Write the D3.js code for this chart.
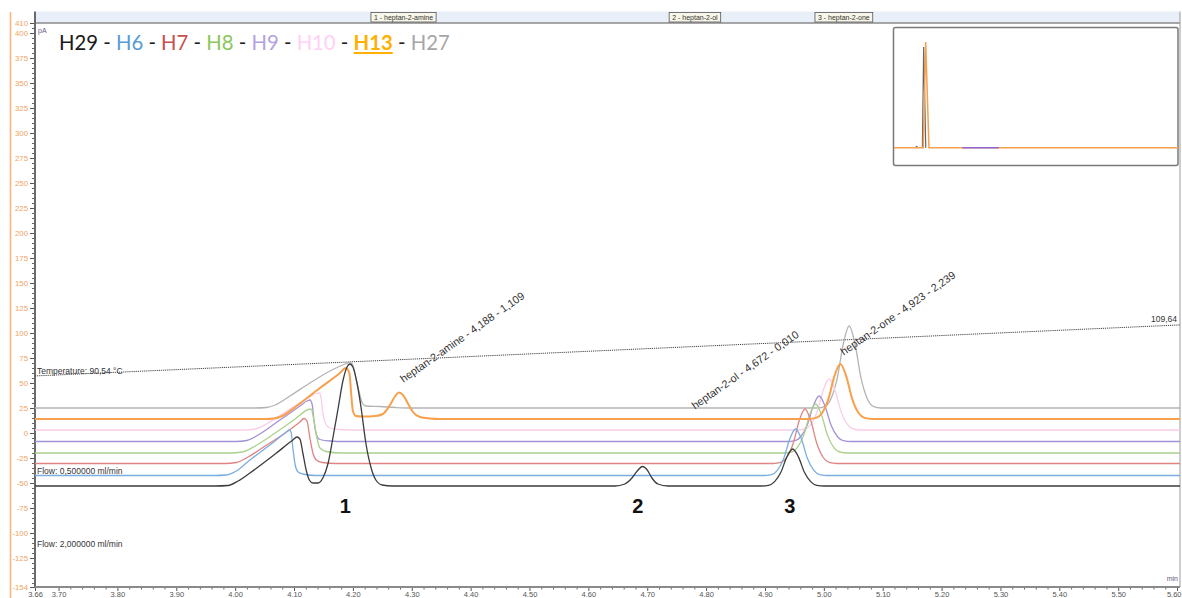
<!DOCTYPE html>
<html><head><meta charset="utf-8">
<script src="https://cdn.jsdelivr.net/npm/d3@7"></script>
<style>body{margin:0;background:#fff}svg{display:block}</style>
</head><body><svg id="c" width="1182" height="598"></svg>
<script>
// ---------- DATA ----------
const seriesNames = ["H29","H6","H7","H8","H9","H10","H13","H27"];
const lineColors  = ["#3c3c3c","#7aaee0","#e08484","#a9d18e","#a292d6","#f9cdea","#f7a04e","#b4b4b4"];
const legendColors= ["#1a1a1a","#5b9bd5","#c9504d","#8cc65c","#b4a2de","#ffd0f4","#ffb000","#a6a6a6"];

const h29 = [[3.66,-53],[3.966,-53],[3.988,-52.5],[4.005,-48],[4.025,-40],[4.068,-21],[4.098,-7],[4.105,-4],[4.110,-6],[4.115,-20],[4.121,-38],[4.126,-47],[4.132,-50],[4.141,-50],[4.149,-45],[4.158,-30],[4.166,-5],[4.175,25],[4.183,52],[4.190,66],[4.195,69],[4.200,66],[4.207,50],[4.214,25],[4.222,-10],[4.231,-35],[4.239,-47],[4.250,-52],[4.267,-53],
  [4.645,-53],[4.662,-51],[4.674,-45],[4.683,-38],[4.692,-33.5],[4.700,-37],[4.708,-45],[4.718,-51],[4.735,-53],
  [4.893,-53],[4.906,-52.3],[4.916,-48.9],[4.927,-39.3],[4.937,-24.1],[4.947,-16],[4.957,-24.1],[4.967,-39.3],[4.978,-48.9],[4.988,-52.3],[5.001,-53],[5.605,-53]];
const h6 = [[3.66,-42.5],[3.966,-42.5],[3.985,-42],[4.002,-38],[4.025,-27],[4.059,-12],[4.085,0],[4.092,3],[4.095,1],[4.098,-15],[4.102,-32],[4.107,-39],[4.115,-41],[4.136,-42.5],
  [4.898,-42.5],[4.911,-41.6],[4.921,-37.4],[4.932,-25.3],[4.942,-6.2],[4.952,4],[4.962,-6.2],[4.972,-25.3],[4.983,-37.4],[4.993,-41.6],[5.006,-42.5],[5.605,-42.5]];
const h7 = [[3.66,-30.5],[3.983,-30.5],[4.002,-29.5],[4.022,-24],[4.051,-13],[4.085,0],[4.110,11],[4.117,14.5],[4.122,12],[4.127,-5],[4.132,-20],[4.138,-27],[4.148,-29.5],[4.170,-30.5],
  [4.914,-30.5],[4.927,-29.4],[4.937,-24.5],[4.948,-10.3],[4.958,12],[4.968,24],[4.978,12],[4.988,-10.3],[4.999,-24.5],[5.009,-29.4],[5.022,-30.5],[5.605,-30.5]];
const h8 = [[3.66,-20],[3.992,-20],[4.012,-19],[4.034,-13],[4.068,0],[4.102,14],[4.124,23.5],[4.129,24],[4.134,12],[4.139,-5],[4.144,-15],[4.155,-18.5],[4.178,-20],
  [4.932,-20],[4.945,-19],[4.955,-14.6],[4.966,-1.9],[4.976,18.2],[4.986,29],[4.996,18.2],[5.006,-1.9],[5.017,-14.6],[5.027,-19],[5.040,-20],[5.605,-20]];
const h9 = [[3.66,-8.5],[4.000,-8.5],[4.020,-7.5],[4.042,-1],[4.076,13],[4.110,27],[4.122,32],[4.127,33],[4.131,28],[4.134,12],[4.138,-2],[4.144,-6.5],[4.161,-8],[4.187,-8.5],
  [4.938,-8.5],[4.951,-7.6],[4.961,-3.5],[4.972,8.3],[4.982,27],[4.992,37],[5.002,27],[5.012,8.3],[5.023,-3.5],[5.033,-7.6],[5.046,-8.5],[5.605,-8.5]];
const h10 = [[3.66,3],[4.017,3],[4.034,4],[4.056,10],[4.093,24],[4.127,36],[4.138,39.5],[4.143,40],[4.146,35],[4.149,20],[4.154,9],[4.161,5],[4.178,3.5],[4.212,3],
  [4.955,3],[4.968,4],[4.978,8.6],[4.989,21.9],[4.999,42.8],[5.009,54],[5.019,42.8],[5.029,21.9],[5.040,8.6],[5.050,4],[5.063,3],[5.605,3]];
const h13 = [[3.66,14],[4.051,14],[4.066,14.5],[4.080,17],[4.102,26],[4.144,45],[4.178,60],[4.188,65],[4.194,60],[4.197,40],[4.200,22],[4.205,17],[4.216,16.5],[4.238,17],[4.251,19],[4.263,28],[4.272,37],[4.278,40.5],[4.285,38],[4.294,29],[4.302,21],[4.314,16],[4.331,14.5],[4.348,14],
  [4.974,14],[4.987,15.1],[4.997,20],[5.008,34.4],[5.018,56.9],[5.028,69],[5.038,56.9],[5.048,34.4],[5.059,20],[5.069,15.1],[5.082,14],[5.605,14]];
const h27 = [[3.66,25],[4.034,25],[4.053,25.5],[4.068,28],[4.093,37],[4.127,50],[4.161,62],[4.187,69],[4.195,70.5],[4.200,68],[4.205,55],[4.211,40],[4.216,30],[4.222,27],[4.246,26.5],[4.272,25.5],[4.297,25],
  [4.989,25],[5.002,26.6],[5.012,34],[5.023,55.3],[5.033,89],[5.043,107],[5.053,89],[5.063,55.3],[5.074,34],[5.084,26.6],[5.097,25],[5.605,25]];
const seriesData = [h29,h6,h7,h8,h9,h10,h13,h27];
const drawOrder = [7,5,4,3,2,1,6,0];

// temperature ramp (secondary axis)
const tempTimes = [3.66, 5.605];
const tempValues = [90.54, 109.64];

// peak annotations
const peakNames   = ["heptan-2-amine","heptan-2-ol","heptan-2-one"];
const peakRT      = ["4,188","4,672","4,923"];
const peakArea    = ["1,109","0,010","2,239"];
const peakLabelT  = [4.286, 4.781, 5.034];
const peakLabelV  = [50, 23.3, 77.3];
const peakNumbers = ["1","2","3"];
const peakNumT    = [4.187, 4.684, 4.942];

// axes
const yTicks = [410,400,375,350,325,300,275,250,225,200,175,150,125,100,75,50,25,0,-25,-50,-75,-100,-125,-154];
const xTicks = [3.66,3.70,3.80,3.90,4.00,4.10,4.20,4.30,4.40,4.50,4.60,4.70,4.80,4.90,5.00,5.10,5.20,5.30,5.40,5.50,5.60];
const xTickLabels = ["3.66","3.70","3.80","3.90","4.00","4.10","4.20","4.30","4.40","4.50","4.60","4.70","4.80","4.90","5.00","5.10","5.20","5.30","5.40","5.50","5.60"];

// inset overview
const insetOrange = [[0,0],[1.50,0],[1.567,0],[1.695,1380],[1.872,0],[15.2,0]];
const insetGrey   = [[1.52,0],[1.588,1317],[1.70,0]];
const insetDark   = [[1.15,0],[1.21,25],[1.27,0]];
const insetWindow = [3.66, 5.605];

// ---------- DRAW ----------
const svg = d3.select("#c");
const P = {l:35, r:1180, t:23, b:587};
const x = d3.scaleLinear().domain([3.66,5.605]).range([P.l,P.r]);
const y = d3.scaleLinear().domain([-154,410]).range([P.b,P.t]);
const tY = d3.scaleLinear().domain([11.5,222.7]).range([P.b,P.t]);

// left orange strip line
svg.append("line").attr("x1",10.5).attr("x2",10.5).attr("y1",12).attr("y2",598).attr("stroke","#f6b47a").attr("stroke-width",1.5);
// header band
svg.append("rect").attr("x",P.l).attr("y",11.5).attr("width",P.r-P.l).attr("height",P.t-11.5).attr("fill","#e8eff9");
svg.append("line").attr("x1",P.l).attr("x2",P.r).attr("y1",P.t).attr("y2",P.t).attr("stroke","#8a8a8a").attr("stroke-width",1.6);
svg.append("line").attr("x1",P.r).attr("x2",P.r).attr("y1",11.5).attr("y2",P.b).attr("stroke","#9a9a9a").attr("stroke-width",1);

// clip
svg.append("clipPath").attr("id","clip").append("rect").attr("x",P.l).attr("y",P.t).attr("width",P.r-P.l).attr("height",P.b-P.t);

// Y axis
const yAx = svg.append("g").attr("transform",`translate(${P.l},0)`)
  .call(d3.axisLeft(y).tickValues(yTicks).tickSize(5).tickPadding(2).tickFormat(d=>d));
yAx.select(".domain").remove();
yAx.selectAll("line").attr("stroke","#555");
yAx.selectAll("text").attr("fill","#f2a35e").style("font-family","Liberation Sans, Arial").style("font-size","7.8px");
const yMin = svg.append("g").attr("transform",`translate(${P.l},0)`)
  .call(d3.axisLeft(y).tickValues(d3.range(-150,410,5).filter(v=>yTicks.indexOf(v)<0)).tickSize(3).tickFormat(""));
yMin.select(".domain").remove();
yMin.selectAll("line").attr("stroke","#666");

// X axis
const xAx = svg.append("g").attr("transform",`translate(0,${P.b})`)
  .call(d3.axisBottom(x).tickValues(xTicks).tickSize(4).tickPadding(1).tickFormat((d,i)=>xTickLabels[i]));
xAx.select(".domain").remove();
xAx.selectAll("line").attr("stroke","#555");
xAx.selectAll("text").attr("fill","#555").style("font-family","Liberation Sans, Arial").style("font-size","7.5px");
xAx.selectAll("text").filter((d,i,n)=>i===n.length-1).attr("text-anchor","end").attr("x",1181-x(5.60));
const xMin = svg.append("g").attr("transform",`translate(0,${P.b})`)
  .call(d3.axisBottom(x).tickValues(d3.range(3.72,5.605,0.02).filter(v=>Math.abs(Math.round(v*10)-v*10)>0.01)).tickSize(2.5).tickFormat(""));
xMin.select(".domain").remove();
xMin.selectAll("line").attr("stroke","#666");

// axis lines
svg.append("line").attr("x1",P.l).attr("x2",P.l).attr("y1",11.5).attr("y2",P.b+1).attr("stroke","#6a6a6a").attr("stroke-width",2);
svg.append("line").attr("x1",P.l).attr("x2",P.r).attr("y1",P.b).attr("y2",P.b).attr("stroke","#8a8a8a").attr("stroke-width",2);

// unit labels
svg.append("text").attr("x",38).attr("y",33).text("pA").attr("fill","#6a5a8a").style("font-family","Liberation Sans, Arial").style("font-size","7px");
svg.append("text").attr("x",1178).attr("y",581).attr("text-anchor","end").text("min").attr("fill","#6a5a7a").style("font-family","Liberation Sans, Arial").style("font-size","7px");

const gPlot = svg.append("g").attr("clip-path","url(#clip)");

// temperature dotted line
const tempLine = d3.line().x(d=>x(d[0])).y(d=>tY(d[1]));
gPlot.append("path").datum(tempTimes.map((t,i)=>[t,tempValues[i]])).attr("d",tempLine)
  .attr("fill","none").attr("stroke","#444").attr("stroke-width",1).attr("stroke-dasharray","1.2,0.9");
const smallFont = "Liberation Sans, Arial";
svg.append("text").attr("x",37).attr("y",tY(tempValues[0])-2).text("Temperature: 90,54 °C").attr("fill","#333").style("font-family",smallFont).style("font-size","8.5px");
svg.append("text").attr("x",1177).attr("y",tY(tempValues[1])-3).attr("text-anchor","end").text("109,64").attr("fill","#333").style("font-family",smallFont).style("font-size","8.5px");
svg.append("text").attr("x",37).attr("y",474).text("Flow: 0,500000 ml/min").attr("fill","#333").style("font-family",smallFont).style("font-size","8.5px");
svg.append("text").attr("x",37).attr("y",547).text("Flow: 2,000000 ml/min").attr("fill","#333").style("font-family",smallFont).style("font-size","8.5px");

// traces
const line = d3.line().x(d=>x(d[0])).y(d=>y(d[1])).curve(d3.curveMonotoneX);
drawOrder.forEach(i=>{
  gPlot.append("path").datum(seriesData[i]).attr("d",line).attr("fill","none")
    .attr("stroke",lineColors[i]).attr("stroke-width", i===6?2:1.3).attr("stroke-linejoin","round");
});

// rotated peak labels
peakNames.forEach((n,i)=>{
  svg.append("text").attr("transform",`translate(${x(peakLabelT[i])},${y(peakLabelV[i])}) rotate(-35)`)
    .text(`${n} - ${peakRT[i]} - ${peakArea[i]}`).attr("fill","#333")
    .style("font-family",smallFont).style("font-size","10.8px");
});

// header boxes
peakNames.forEach((n,i)=>{
  const g = svg.append("g");
  const t = g.append("text").attr("x",x(peakLabelT[i])).attr("y",19.8).attr("text-anchor","middle")
    .text(`${i+1} - ${n}`).attr("fill","#333").style("font-family",smallFont).style("font-size","7px");
  const w = t.node().getComputedTextLength()+6;
  g.insert("rect","text").attr("x",x(peakLabelT[i])-w/2).attr("y",12.5).attr("width",w).attr("height",9.5)
    .attr("fill","#f8f6e8").attr("stroke","#555").attr("stroke-width",0.8);
});

// peak numbers
peakNumbers.forEach((n,i)=>{
  svg.append("text").attr("x",x(peakNumT[i])).attr("y",513).attr("text-anchor","middle").text(n)
    .attr("fill","#111").style("font-family","Liberation Sans, Arial").style("font-weight","bold").style("font-size","20px");
});

// legend
const leg = svg.append("text").attr("x",59).attr("y",50).style("font-family","Lato, Open Sans, sans-serif").style("font-size","20.3px");
seriesNames.forEach((n,i)=>{
  if(i>0) leg.append("tspan").text(" - ").attr("fill","#222");
  const ts = leg.append("tspan").text(n).attr("fill",legendColors[i]);
  if(n==="H13") ts.style("font-weight","bold").style("text-decoration","underline");
});

// inset
const I = {l:894, r:1178, t:27.5, b:165.5};
svg.append("rect").attr("x",I.l-0.5).attr("y",I.t).attr("width",I.r-I.l+0.5).attr("height",I.b-I.t)
  .attr("rx",2).attr("fill","#fff").attr("stroke","#7a7a7a").attr("stroke-width",1.5);
const ix = d3.scaleLinear().domain([0,15.2]).range([I.l,I.r]);
const iy = d3.scaleLinear().domain([-230,1570]).range([I.b,I.t]);
const il = d3.line().x(d=>ix(d[0])).y(d=>iy(d[1]));
svg.append("path").datum(insetDark).attr("d",il).attr("fill","none").attr("stroke","#555").attr("stroke-width",1);
svg.append("path").datum(insetGrey).attr("d",il).attr("fill","none").attr("stroke","#666").attr("stroke-width",1.2);
svg.append("path").datum(insetOrange).attr("d",il).attr("fill","none").attr("stroke","#f7a04e").attr("stroke-width",1.5);
svg.append("line").attr("x1",ix(insetWindow[0])).attr("x2",ix(insetWindow[1])).attr("y1",iy(0)).attr("y2",iy(0))
  .attr("stroke","#8a6ad8").attr("stroke-width",1.5);
</script></body></html>
